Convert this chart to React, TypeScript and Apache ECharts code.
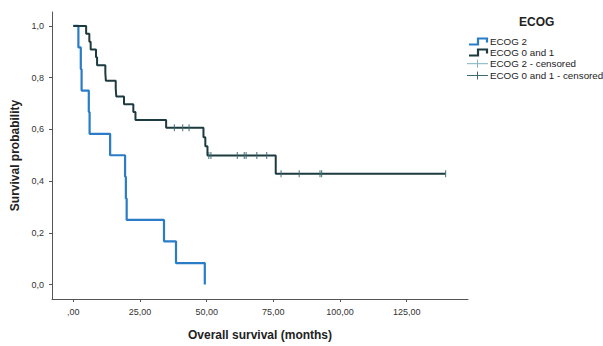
import React, { useEffect, useRef } from "react";
import * as echarts from "echarts";

// ECOG 2 (no censoring)
const ecog2Times = [0, 1.9, 2.8, 3.1, 5.8, 6.1, 13.8, 19.4, 19.7, 20.0, 34.0, 38.5, 49.3];
const ecog2Surv = [1.0, 0.917, 0.833, 0.75, 0.667, 0.583, 0.5, 0.417, 0.333, 0.25, 0.167, 0.083, 0.0];

// ECOG 0 and 1
const ecog01Times = [0, 4.8, 6.0, 6.5, 8.5, 8.9, 12.0, 12.2, 15.9, 16.1, 19.0, 22.5, 23.3, 34.8, 48.8, 49.5, 50.3, 75.9, 139.6];
const ecog01Surv = [1.0, 0.970, 0.939, 0.909, 0.879, 0.848, 0.818, 0.788, 0.758, 0.727, 0.697, 0.667, 0.636, 0.606, 0.570, 0.535, 0.499, 0.428, 0.428];

// censored marks (ECOG 0 and 1)
const censorTimes = [37.9, 41.0, 43.4, 50.8, 51.6, 61.5, 64.1, 64.8, 68.8, 72.5, 77.9, 84.7, 92.5, 93.1, 139.6];
const censorSurv = [0.606, 0.606, 0.606, 0.499, 0.499, 0.499, 0.499, 0.499, 0.499, 0.499, 0.428, 0.428, 0.428, 0.428, 0.428];

const xTicks = [0, 25, 50, 75, 100, 125];
const yTicks = [0, 0.2, 0.4, 0.6, 0.8, 1.0];

const legendLabels = ["ECOG 2", "ECOG 0 and 1", "ECOG 2 - censored", "ECOG 0 and 1 - censored"];

const BLUE = "#2a7cc7";
const DARK = "#1d3b3e";
const LIGHT = "#7fb3c0";
const DARKC = "#3b6a70";

export default function App() {
  const ref = useRef<HTMLDivElement>(null);
  useEffect(() => {
    if (!ref.current) return;
    const chart = echarts.init(ref.current, null, { renderer: "svg" });
    const fmtX = (v: number) => (v === 0 ? ",00" : v.toFixed(2).replace(".", ","));
    const fmtY = (v: number) => v.toFixed(1).replace(".", ",");
    const legendX = 469;
    const rowsY = [41.5, 52.5, 63.7, 75.5];
    const graphics: any[] = [
      {
        type: "text",
        left: 519,
        top: 16,
        style: { text: "ECOG", font: "bold 12px 'Liberation Sans', Arial, sans-serif", fill: "#222" },
      },
    ];
    rowsY.forEach((y, i) => {
      if (i < 2) {
        graphics.push({
          type: "polyline",
          shape: { points: [[legendX, y + 3], [legendX + 9, y + 3], [legendX + 9, y - 3], [legendX + 18, y - 3], [legendX + 18, y + 1]] },
          style: { stroke: i === 0 ? BLUE : DARK, lineWidth: 2.2, fill: null },
        });
      } else {
        const c = i === 2 ? LIGHT : DARKC;
        graphics.push({
          type: "line",
          shape: { x1: legendX - 2, y1: y, x2: legendX + 19, y2: y },
          style: { stroke: c, lineWidth: 1 },
        });
        graphics.push({
          type: "line",
          shape: { x1: legendX + 8.5, y1: y - 4, x2: legendX + 8.5, y2: y + 4 },
          style: { stroke: c, lineWidth: 1 },
        });
      }
      graphics.push({
        type: "text",
        x: legendX + 21,
        y: y,
        style: {
          text: legendLabels[i],
          font: "9.8px 'Liberation Sans', Arial, sans-serif",
          fill: "#222",
          verticalAlign: "middle",
        },
      });
    });

    chart.setOption({
      animation: false,
      backgroundColor: "#fff",
      grid: { left: 52, right: 135, top: 12, bottom: 41, containLabel: false },
      xAxis: {
        type: "value",
        min: -8,
        max: 148,
        name: "Overall survival (months)",
        nameLocation: "middle",
        nameGap: 30,
        nameTextStyle: { fontWeight: "bold", fontSize: 12, color: "#222", fontFamily: "'Liberation Sans', Arial, sans-serif" },
        axisLine: { show: true, onZero: false, lineStyle: { color: "#555", width: 1 } },
        axisTick: { show: true, length: 3, customValues: xTicks, lineStyle: { color: "#555" } },
        axisLabel: { customValues: xTicks, formatter: fmtX, fontSize: 9, color: "#333", margin: 8, fontFamily: "'Liberation Sans', Arial, sans-serif" },
        splitLine: { show: false },
      },
      yAxis: {
        type: "value",
        min: -0.056,
        max: 1.054,
        name: "Survival probability",
        nameLocation: "middle",
        nameGap: 30,
        nameRotate: 90,
        nameTextStyle: { fontWeight: "bold", fontSize: 12, color: "#222", fontFamily: "'Liberation Sans', Arial, sans-serif" },
        axisLine: { show: true, onZero: false, lineStyle: { color: "#555", width: 1 } },
        axisTick: { show: true, length: 3, customValues: yTicks, lineStyle: { color: "#555" } },
        axisLabel: { customValues: yTicks, formatter: fmtY, fontSize: 9, color: "#333", margin: 8, fontFamily: "'Liberation Sans', Arial, sans-serif" },
        splitLine: { show: false },
      },
      graphic: graphics,
      series: [
        {
          type: "line",
          step: "end",
          data: ecog2Times.map((t, i) => [t, ecog2Surv[i]]),
          showSymbol: false,
          symbol: "none",
          lineStyle: { color: BLUE, width: 2.2 },
          z: 2,
        },
        {
          type: "line",
          step: "end",
          data: ecog01Times.map((t, i) => [t, ecog01Surv[i]]),
          showSymbol: false,
          symbol: "none",
          lineStyle: { color: DARK, width: 2 },
          z: 3,
        },
        {
          type: "scatter",
          data: censorTimes.map((t, i) => [t, censorSurv[i]]),
          symbol: "rect",
          symbolSize: [1.2, 7],
          itemStyle: { color: DARKC },
          z: 4,
        },
      ],
    });
    return () => chart.dispose();
  }, []);
  return <div ref={ref} style={{ width: 603, height: 346, position: "absolute", left: 0, top: 0 }} />;
}
